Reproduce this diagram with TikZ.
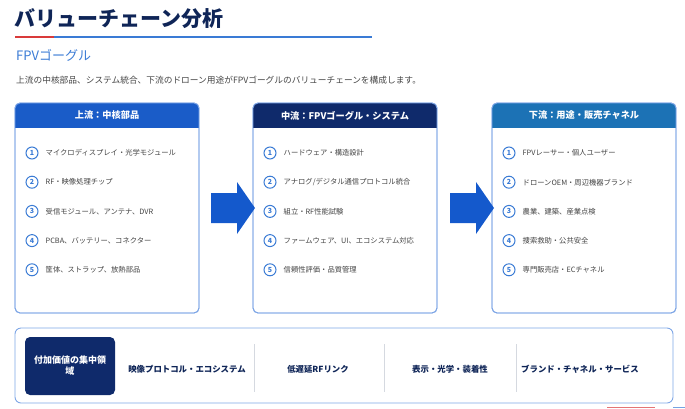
\documentclass[tikz,border=0pt]{standalone}
\usepackage{fontspec}
\setmainfont{Noto Sans CJK JP}
\usetikzlibrary{calc, positioning}
\definecolor{titlenavy}{HTML}{0F2557}
\definecolor{accentred}{HTML}{D93A3A}
\definecolor{accentblue}{HTML}{3A7BD5}
\definecolor{bodygray}{HTML}{444444}
\definecolor{upblue}{HTML}{1A5CC8}
\definecolor{midnavy}{HTML}{0F2A6B}
\definecolor{downblue}{HTML}{1C72B5}
\definecolor{frameblue}{HTML}{7EA6E6}
\definecolor{arrowblue}{HTML}{1459CC}
\definecolor{sepgray}{HTML}{D5D9E0}

\tikzset{
  stagebox/.style={draw=frameblue, line width=0.9pt, rounded corners=5pt, fill=white,
    minimum width=184pt, minimum height=210pt, inner sep=0pt, outer sep=0pt},
  stagehead/.style={text=white, inner sep=0pt, font=\bfseries\fontsize{9.2}{10}\selectfont},
  itemnum/.style={circle, draw=accentblue, line width=1pt, fill=white, minimum size=12pt,
    inner sep=0pt, text=accentblue, font=\bfseries\fontsize{7}{7}\selectfont},
  itemtxt/.style={anchor=west, inner sep=0pt, text=bodygray, font=\fontsize{7.3}{8}\selectfont},
  focustxt/.style={inner sep=0pt, text=titlenavy, font=\bfseries\fontsize{8.4}{9}\selectfont},
  flowarrow/.style={fill=arrowblue},
}

% header bar in the top of a stage box
\newcommand{\headbar}[3]{%
  \begin{scope}
    \clip[rounded corners=5pt] (#1.north west) rectangle (#1.south east);
    \fill[#2] (#1.north west) rectangle ($(#1.north east)+(0,25)$);
  \end{scope}
  \draw[frameblue, line width=0.9pt, rounded corners=5pt] (#1.north west) rectangle (#1.south east);
  \node[stagehead] (#1head) at ($(#1.north)+(0,12.5)$) {#3};
}

\begin{document}
\begin{tikzpicture}[x=1pt, y=-1pt]
    \useasboundingbox (0,0) rectangle (685,408);

    % title
    \node[anchor=west, inner sep=0pt, text=titlenavy, font=\bfseries\fontsize{21}{24}\selectfont] (title) at (14,19) {バリューチェーン分析};
    \draw[accentred, line width=2pt] (15,37) -- (54,37);
    \draw[accentblue, line width=2pt] (54,37) -- (372,37);
    \node[anchor=west, inner sep=0pt, text=accentblue, font=\fontsize{13}{15}\selectfont] (subtitle) at (16,55) {FPVゴーグル};
    \node[anchor=west, inner sep=0pt, text=bodygray, font=\fontsize{8.7}{10}\selectfont] (lead) at (16,80) {上流の中核部品、システム統合、下流のドローン用途がFPVゴーグルのバリューチェーンを構成します。};

    % stages
    \node[stagebox] (up) at (107,208) {};
    \node[stagebox] (mid) at (345,208) {};
    \node[stagebox] (down) at (584,208) {};
    \headbar{up}{upblue}{上流：中核部品}
    \headbar{mid}{midnavy}{中流：FPVゴーグル・システム}
    \headbar{down}{downblue}{下流：用途・販売チャネル}

    \foreach \i/\t in {1/マイクロディスプレイ・光学モジュール, 2/RF・映像処理チップ, 3/受信モジュール、アンテナ、DVR, 4/PCBA、バッテリー、コネクター, 5/筐体、ストラップ、放熱部品} {
        \pgfmathsetmacro{\dy}{50+29.2*(\i-1)}
        \node[itemnum] (up\i) at ($(up.north west)+(17,\dy)$) {\i};
        \node[itemtxt, right=7pt of up\i] {\t};
    }
    \foreach \i/\t in {1/ハードウェア・構造設計, 2/{アナログ/デジタル通信プロトコル統合}, 3/組立・RF性能試験, 4/ファームウェア、UI、エコシステム対応, 5/信頼性評価・品質管理} {
        \pgfmathsetmacro{\dy}{50+29.2*(\i-1)}
        \node[itemnum] (mid\i) at ($(mid.north west)+(17,\dy)$) {\i};
        \node[itemtxt, right=7pt of mid\i] {\t};
    }
    \foreach \i/\t in {1/FPVレーサー・個人ユーザー, 2/ドローンOEM・周辺機器ブランド, 3/農業、建築、産業点検, 4/捜索救助・公共安全, 5/専門販売店・ECチャネル} {
        \pgfmathsetmacro{\dy}{50+29.2*(\i-1)}
        \node[itemnum] (down\i) at ($(down.north west)+(17,\dy)$) {\i};
        \node[itemtxt, right=7pt of down\i] {\t};
    }

    % flow arrows
    \fill[flowarrow] ($(up.east)+(12,-15)$) -- ++(26,0) -- ++(0,-11) -- ++(18,26) -- ++(-18,26) -- ++(0,-11) -- ++(-26,0) -- cycle;
    \fill[flowarrow] ($(mid.east)+(13,-15)$) -- ++(26,0) -- ++(0,-11) -- ++(18,26) -- ++(-18,26) -- ++(0,-11) -- ++(-26,0) -- cycle;

    % value focus panel
    \node[draw=frameblue, line width=0.9pt, rounded corners=6pt, minimum width=658pt, minimum height=75pt] (focus) at (344,365.5) {};
    \node[fill=midnavy, rounded corners=5pt, minimum width=90pt, minimum height=58pt, text=white, align=center,
          font=\bfseries\fontsize{9}{11}\selectfont] (focushead) at (70,366) {付加価値の集中領\\域};
    \node[focustxt] (f1) at (187,369) {映像プロトコル・エコシステム};
    \node[focustxt] (f2) at (318,369) {低遅延RFリンク};
    \node[focustxt] (f3) at (450,369) {表示・光学・装着性};
    \node[focustxt] (f4) at (580,369) {ブランド・チャネル・サービス};
    \draw[sepgray, line width=0.8pt] (254,344) -- (254,392);
    \draw[sepgray, line width=0.8pt] (384,344) -- (384,392);
    \draw[sepgray, line width=0.8pt] (516,344) -- (516,392);

    % cut-off marks at the bottom edge
    \draw[accentred!70, line width=1pt] (607,407.5) -- (655,407.5);
    \draw[accentblue!70, line width=1pt] (673,407.5) -- (685,407.5);
\end{tikzpicture}
\end{document}
